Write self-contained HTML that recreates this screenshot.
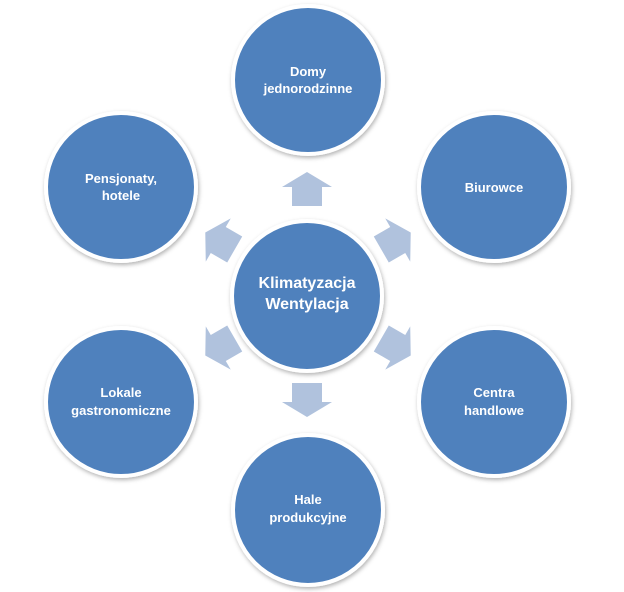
<!DOCTYPE html>
<html><head><meta charset="utf-8"><style>
html,body{margin:0;padding:0;background:#fff;}
svg{display:block;}
text{font-family:"Liberation Sans",sans-serif;font-weight:bold;fill:#fff;text-anchor:middle;}
</style></head><body>
<svg width="624" height="592" viewBox="0 0 624 592" xmlns="http://www.w3.org/2000/svg">
<defs>
<filter id="sh" x="-20%" y="-20%" width="140%" height="140%">
<feDropShadow dx="1" dy="2" stdDeviation="2" flood-color="#000" flood-opacity="0.3"/>
</filter>
<polygon id="ar" points="0,-17 25,-2 15,-2 15,17 -15,17 -15,-2 -25,-2" fill="#b0c2dd"/>
</defs>
<g fill="#4f81bd" stroke="#fff" stroke-width="4" filter="url(#sh)">
<ellipse cx="308" cy="80" rx="75" ry="74"/>
<ellipse cx="121" cy="187" rx="75" ry="74"/>
<ellipse cx="494" cy="187" rx="75" ry="74"/>
<ellipse cx="121" cy="402" rx="75" ry="74"/>
<ellipse cx="494" cy="402" rx="75" ry="74"/>
<ellipse cx="308" cy="510" rx="75" ry="75"/>
<ellipse cx="307" cy="296" rx="75" ry="75"/>
</g>
<use href="#ar" transform="translate(307,189)"/>
<use href="#ar" transform="translate(307,400) rotate(180)"/>
<use href="#ar" transform="translate(220,241) rotate(-60)"/>
<use href="#ar" transform="translate(396,241) rotate(60)"/>
<use href="#ar" transform="translate(220,347) rotate(-120)"/>
<use href="#ar" transform="translate(396,347) rotate(120)"/>
<g font-size="13">
<text x="308" y="76">Domy</text><text x="308" y="93">jednorodzinne</text>
<text x="121" y="183">Pensjonaty,</text><text x="121" y="200">hotele</text>
<text x="494" y="192">Biurowce</text>
<text x="121" y="397">Lokale</text><text x="121" y="415">gastronomiczne</text>
<text x="494" y="397">Centra</text><text x="494" y="415">handlowe</text>
<text x="308" y="504">Hale</text><text x="308" y="522">produkcyjne</text>
</g>
<g font-size="16">
<text x="307" y="288">Klimatyzacja</text><text x="307" y="309">Wentylacja</text>
</g>
</svg>
</body></html>
